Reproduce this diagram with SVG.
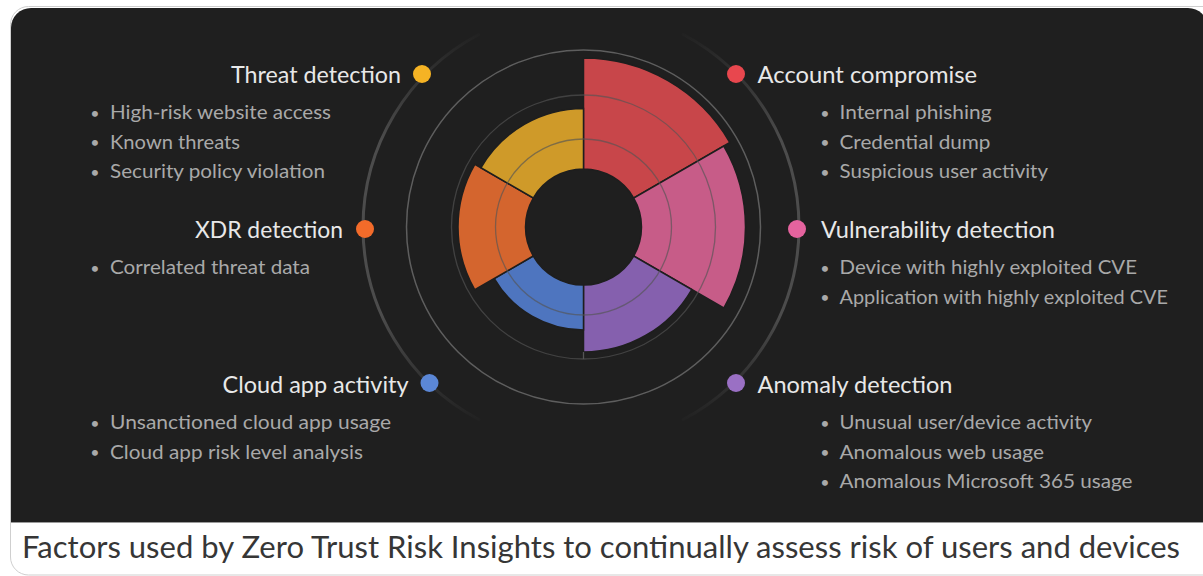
<svg xmlns="http://www.w3.org/2000/svg" width="1203" height="576" viewBox="0 0 1203 576">
  <defs>
    <linearGradient id="arcFade" gradientUnits="userSpaceOnUse" x1="0" y1="28" x2="0" y2="426">
      <stop offset="0" stop-color="#4c4c4c" stop-opacity="0"/>
      <stop offset="0.28" stop-color="#4c4c4c" stop-opacity="1"/>
      <stop offset="0.72" stop-color="#4c4c4c" stop-opacity="1"/>
      <stop offset="1" stop-color="#4c4c4c" stop-opacity="0"/>
    </linearGradient>
  </defs>
  <style>
    .title { font-family: Lato, "Open Sans", "Liberation Sans", sans-serif; font-size: 23px; fill: #e8e8e8; }
    .item { font-family: Lato, "Open Sans", "Liberation Sans", sans-serif; font-size: 20px; fill: #a9a9a9; }
    .bul { font-family: Lato, "Open Sans", "Liberation Sans", sans-serif; font-size: 16px; fill: #a9a9a9; text-anchor: middle; }
    .cap { font-family: Lato, "Open Sans", "Liberation Sans", sans-serif; font-size: 30px; fill: #363636; }
    .sector { stroke: #1e1e1e; stroke-width: 1.5; }
    .grid { fill: none; stroke: #555555; stroke-opacity: 0.65; stroke-width: 1.3; }
    .outerArc { fill: none; stroke: url(#arcFade); stroke-width: 3; stroke-linecap: round; }
  </style>

  <g id="frame">
    <rect x="10.5" y="6.5" width="1215" height="568.5" rx="18" fill="#ffffff" stroke="#cfcfcf" stroke-width="1"/>
    <path d="M11,522 V28 A20,20 0 0 1 31,8 H1188 A20,20 0 0 1 1208,28 V522 Z" fill="#1f1f1f"/>
    <line x1="11" y1="522.5" x2="1203" y2="522.5" stroke="#9a9a9a" stroke-width="1"/>
    <text class="cap" x="22" y="558" textLength="1158" lengthAdjust="spacingAndGlyphs">Factors used by Zero Trust Risk Insights to continually assess risk of users and devices</text>
  </g>

  <g id="arcs">
    <path class="outerArc" d="M478.7,34.5 A218,218 0 0 0 478.7,419.5"/>
    <path class="outerArc" d="M683.3,34.5 A218,218 0 0 1 683.3,419.5"/>
  </g>

  <g id="chart">
    <circle cx="583.5" cy="227" r="177" fill="none" stroke="#5e5e5e" stroke-width="1.5"/>
    <path id="sector-account" class="sector" fill="#c8464a" d="M583.5,58 A169,169 0 0 1 729.86,142.5 L633.73,198 A58,58 0 0 0 583.5,169 Z"/>
    <path id="sector-vuln" class="sector" fill="#c75c88" d="M723.8,146 A162,162 0 0 1 723.8,308 L633.73,256 A58,58 0 0 0 633.73,198 Z"/>
    <path id="sector-anomaly" class="sector" fill="#8560ae" d="M691.75,289.5 A125,125 0 0 1 583.5,352 L583.5,285 A58,58 0 0 0 633.73,256 Z"/>
    <path id="sector-cloud" class="sector" fill="#4e75bf" d="M583.5,330 A103,103 0 0 1 494.3,278.5 L533.27,256 A58,58 0 0 0 583.5,285 Z"/>
    <path id="sector-xdr" class="sector" fill="#d4652e" d="M474.81,289.75 A125.5,125.5 0 0 1 474.81,164.25 L533.27,198 A58,58 0 0 0 533.27,256 Z"/>
    <path id="sector-threat" class="sector" fill="#cf9a29" d="M480.88,167.75 A118.5,118.5 0 0 1 583.5,108.5 L583.5,169 A58,58 0 0 0 533.27,198 Z"/>
    <circle class="grid" cx="583.5" cy="227" r="88"/>
    <circle class="grid" cx="583.5" cy="227" r="132"/>
    <line x1="583.5" y1="352" x2="583.5" y2="359" stroke="#555555" stroke-width="1.3"/>
  </g>

  <g id="node-threat">
    <circle cx="422" cy="74" r="9" fill="#f5b324"/>
    <text class="title" x="401" y="83" text-anchor="end" textLength="170" lengthAdjust="spacingAndGlyphs">Threat detection</text>
    <text class="bul" x="95" y="118.5">•</text>
    <text class="item" x="110" y="119" textLength="221" lengthAdjust="spacingAndGlyphs">High-risk website access</text>
    <text class="bul" x="95" y="148">•</text>
    <text class="item" x="110" y="148.5" textLength="130" lengthAdjust="spacingAndGlyphs">Known threats</text>
    <text class="bul" x="95" y="177.5">•</text>
    <text class="item" x="110" y="178" textLength="215" lengthAdjust="spacingAndGlyphs">Security policy violation</text>
  </g>

  <g id="node-xdr">
    <circle cx="365" cy="229" r="9" fill="#f26b2a"/>
    <text class="title" x="343" y="238" text-anchor="end" textLength="148" lengthAdjust="spacingAndGlyphs">XDR detection</text>
    <text class="bul" x="95" y="273.5">•</text>
    <text class="item" x="110" y="274" textLength="200" lengthAdjust="spacingAndGlyphs">Correlated threat data</text>
  </g>

  <g id="node-cloud">
    <circle cx="429.5" cy="383" r="9" fill="#5b87d6"/>
    <text class="title" x="408.5" y="393" text-anchor="end" textLength="186" lengthAdjust="spacingAndGlyphs">Cloud app activity</text>
    <text class="bul" x="95" y="428.5">•</text>
    <text class="item" x="110" y="429" textLength="281" lengthAdjust="spacingAndGlyphs">Unsanctioned cloud app usage</text>
    <text class="bul" x="95" y="458">•</text>
    <text class="item" x="110" y="458.5" textLength="253" lengthAdjust="spacingAndGlyphs">Cloud app risk level analysis</text>
  </g>

  <g id="node-account">
    <circle cx="736" cy="74" r="9" fill="#e8474e"/>
    <text class="title" x="757.5" y="83" textLength="219.5" lengthAdjust="spacingAndGlyphs">Account compromise</text>
    <text class="bul" x="825" y="118.5">•</text>
    <text class="item" x="839.5" y="119" textLength="152" lengthAdjust="spacingAndGlyphs">Internal phishing</text>
    <text class="bul" x="825" y="148">•</text>
    <text class="item" x="839.5" y="148.5" textLength="151" lengthAdjust="spacingAndGlyphs">Credential dump</text>
    <text class="bul" x="825" y="177.5">•</text>
    <text class="item" x="839.5" y="178" textLength="208.5" lengthAdjust="spacingAndGlyphs">Suspicious user activity</text>
  </g>

  <g id="node-vuln">
    <circle cx="797" cy="229" r="9" fill="#e5639e"/>
    <text class="title" x="821" y="238" textLength="234" lengthAdjust="spacingAndGlyphs">Vulnerability detection</text>
    <text class="bul" x="825" y="273.5">•</text>
    <text class="item" x="839.5" y="274" textLength="297.5" lengthAdjust="spacingAndGlyphs">Device with highly exploited CVE</text>
    <text class="bul" x="825" y="303">•</text>
    <text class="item" x="839.5" y="303.5" textLength="328.5" lengthAdjust="spacingAndGlyphs">Application with highly exploited CVE</text>
  </g>

  <g id="node-anomaly">
    <circle cx="736" cy="383" r="9" fill="#9a70c4"/>
    <text class="title" x="757.5" y="393" textLength="195" lengthAdjust="spacingAndGlyphs">Anomaly detection</text>
    <text class="bul" x="825" y="428.5">•</text>
    <text class="item" x="839.5" y="429" textLength="252.5" lengthAdjust="spacingAndGlyphs">Unusual user/device activity</text>
    <text class="bul" x="825" y="458">•</text>
    <text class="item" x="839.5" y="458.5" textLength="204.5" lengthAdjust="spacingAndGlyphs">Anomalous web usage</text>
    <text class="bul" x="825" y="487.5">•</text>
    <text class="item" x="839.5" y="488" textLength="293" lengthAdjust="spacingAndGlyphs">Anomalous Microsoft 365 usage</text>
  </g>
</svg>
